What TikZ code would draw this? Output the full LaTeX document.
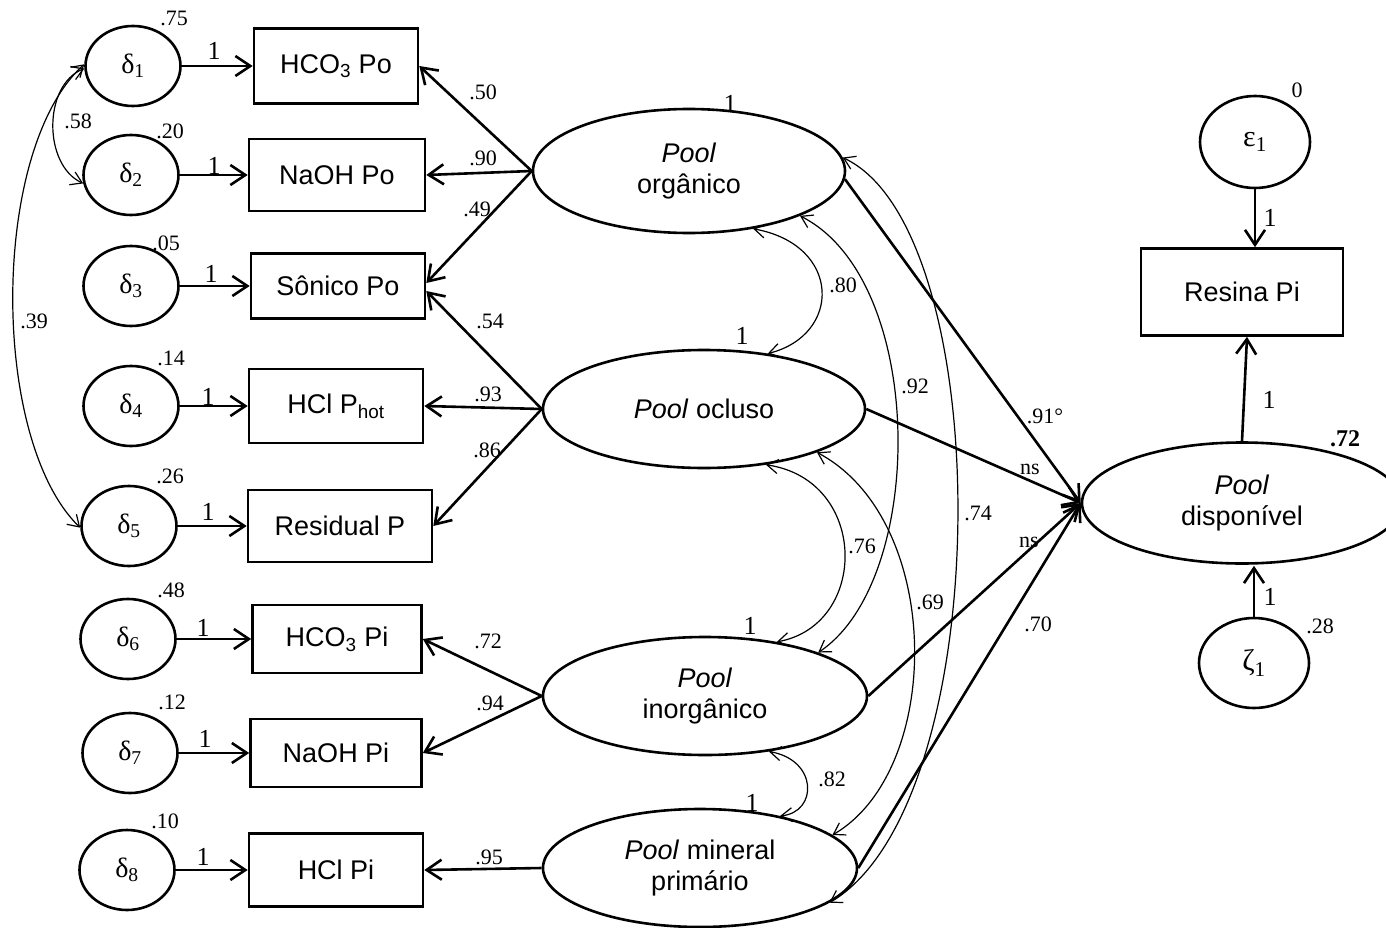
\documentclass[tikz,border=0pt]{standalone}
\usepackage{fontspec}
\setmainfont{Liberation Serif}
\setsansfont{Liberation Sans}
\usetikzlibrary{shapes.geometric,arrows.meta}

\begin{document}
\begin{tikzpicture}[x=1pt,y=-1pt,
  box/.style={draw,line width=2.6pt,rectangle,inner sep=0pt,font=\sffamily\fontsize{27}{32}\selectfont},
  err/.style={draw,line width=2.6pt,ellipse,inner sep=0pt,minimum width=95pt,minimum height=80pt,font=\fontsize{28}{32}\selectfont},
  latent/.style={draw,line width=2.6pt,ellipse,inner sep=0pt,align=center,font=\sffamily\fontsize{27}{31}\selectfont},
  reg/.style={line width=2.6pt,-{Straight Barb[length=15pt,width=20pt]}},
  cov/.style={line width=1.2pt,{Straight Barb[length=11pt,width=14pt]}-{Straight Barb[length=11pt,width=14pt]}},
  num/.style={font=\fontsize{22}{26}\selectfont,inner sep=0pt},
  one/.style={font=\fontsize{26}{30}\selectfont,inner sep=0pt},
]
\useasboundingbox (0,0) rectangle (1386,928);

% observed indicators
\node[box,minimum width=164pt,minimum height=75pt] (b1) at (336,66) {HCO\textsubscript{3} Po};
\node[box,minimum width=176pt,minimum height=72pt] (b2) at (337,175) {NaOH Po};
\node[box,minimum width=174pt,minimum height=65pt] (b3) at (338,286) {Sônico Po};
\node[box,minimum width=174pt,minimum height=74pt] (b4) at (336,406) {HCl P\textsubscript{hot}};
\node[box,minimum width=184pt,minimum height=72pt] (b5) at (340,526) {Residual P};
\node[box,minimum width=169pt,minimum height=68pt] (b6) at (337,639) {HCO\textsubscript{3} Pi};
\node[box,minimum width=171pt,minimum height=68pt] (b7) at (336,753) {NaOH Pi};
\node[box,minimum width=174pt,minimum height=73pt] (b8) at (336,870) {HCl Pi};
\node[box,minimum width=202pt,minimum height=87pt] (res) at (1242,292) {Resina Pi};

% measurement errors
\node[err] (d1) at (133,66) {δ\textsubscript{1}};
\node[err] (d2) at (131,175) {δ\textsubscript{2}};
\node[err] (d3) at (131,286) {δ\textsubscript{3}};
\node[err] (d4) at (131,406) {δ\textsubscript{4}};
\node[err] (d5) at (129,526) {δ\textsubscript{5}};
\node[err] (d6) at (128,639) {δ\textsubscript{6}};
\node[err] (d7) at (130,753) {δ\textsubscript{7}};
\node[err] (d8) at (127,870) {δ\textsubscript{8}};
\node[err,minimum width=110pt,minimum height=92pt,font=\fontsize{30}{34}\selectfont] (eps) at (1255,142) {ε\textsubscript{1}};
\node[err,minimum width=110pt,minimum height=90pt,font=\fontsize{30}{34}\selectfont] (zeta) at (1254,663) {ζ\textsubscript{1}};

% latent pools
\node[latent,minimum width=312pt,minimum height=124pt] (org) at (689,171) {\textit{Pool}\\orgânico};
\node[latent,minimum width=322pt,minimum height=118pt] (ocl) at (704,409) {\textit{Pool} ocluso};
\node[latent,minimum width=324pt,minimum height=118pt] (ino) at (705,696) {\textit{Pool}\\inorgânico};
\node[latent,minimum width=314pt,minimum height=118pt] (mine) at (700,868) {\textit{Pool} mineral\\primário};
\node[latent,minimum width=320pt,minimum height=121pt] (disp) at (1242,503) {\textit{Pool}\\disponível};

% error paths
\foreach \i in {1,...,8} \draw[reg] (d\i.east) -- (b\i.west);
\draw[reg] (eps.south) -- (eps.south |- res.north);
\draw[reg] (zeta.north) -- ([yshift=-1pt]zeta.north |- disp.south);
\draw[reg] (disp.north) -- ([xshift=5pt]res.south);

% loadings
\draw[reg] (org.west) -- (b1.east);
\draw[reg] (org.west) -- (b2.east);
\draw[reg] (org.west) -- ([yshift=3pt]b3.east);
\draw[reg] (ocl.west) -- ([yshift=-5pt]b3.east);
\draw[reg] (ocl.west) -- (b4.east);
\draw[reg] (ocl.west) -- (b5.east);
\draw[reg] (ino.west) -- (b6.east);
\draw[reg] (ino.west) -- (b7.east);
\draw[reg] (mine.west) -- (b8.east);

% structural paths
\draw[reg] (org.-3) -- (disp.west);
\draw[reg] (ocl.east) -- (disp.west);
\draw[reg] (ino.east) -- (disp.west);
\draw[reg] (mine.east) -- (disp.west);

% covariances
\draw[cov] (d1.183) .. controls (43,85) and (43,165) .. (d2.190);
\draw[cov] (d1.178) .. controls (-10,150) and (-10,440) .. (d5.182);
\draw[cov] (org.-42) .. controls (842,245) and (842,335) .. (ocl.41);
\draw[cov] (org.-22) .. controls (927,280) and (927,580) .. (ino.21);
\draw[cov] (org.5) .. controls (998,230) and (998,803) .. (mine.-15);
\draw[cov] (ocl.-42) .. controls (869,480) and (869,625) .. (ino.37);
\draw[cov] (ocl.-21) .. controls (944,520) and (944,770) .. (mine.14);
\draw[cov] (ino.-41) .. controls (818,760) and (818,812) .. (mine.33);

% variances
\node[num] (v1) at (174,18) {.75};
\node[num] (v2) at (170,131) {.20};
\node[num] (v3) at (166,243) {.05};
\node[num] (v4) at (171,358) {.14};
\node[num] (v5) at (170,476) {.26};
\node[num] (v6) at (171,590) {.48};
\node[num] (v7) at (172,702) {.12};
\node[num] (v8) at (165,821) {.10};
\node[num] (ve) at (1297,90) {0};
\node[num] (vz) at (1320,626) {.28};
\node[num,font=\fontsize{24}{28}\selectfont\bfseries] (vd) at (1345,439) {.72};

% fixed paths
\node[one] (o1) at (214,51) {1};
\node[one] (o2) at (214,166) {1};
\node[one] (o3) at (211,274) {1};
\node[one] (o4) at (208,397) {1};
\node[one] (o5) at (208,512) {1};
\node[one] (o6) at (203,628) {1};
\node[one] (o7) at (205,739) {1};
\node[one] (o8) at (203,857) {1};
\node[one] (oo) at (730,104) {1};
\node[one] (oc) at (742,336) {1};
\node[one] (oi) at (750,626) {1};
\node[one] (om) at (752,803) {1};
\node[one] (oe) at (1270,218) {1};
\node[one] (or) at (1269,400) {1};
\node[one] (oz) at (1270,597) {1};

% coefficients
\node[num] at (483,92) {.50};
\node[num] at (483,158) {.90};
\node[num] at (477,209) {.49};
\node[num] at (490,321) {.54};
\node[num] at (488,394) {.93};
\node[num] at (487,450) {.86};
\node[num] at (488,641) {.72};
\node[num] at (490,703) {.94};
\node[num] at (489,857) {.95};
\node[num] at (78,121) {.58};
\node[num] at (34,321) {.39};
\node[num] at (843,285) {.80};
\node[num] at (915,386) {.92};
\node[num] at (978,513) {.74};
\node[num] at (862,546) {.76};
\node[num] at (930,602) {.69};
\node[num] at (832,779) {.82};
\node[num] at (1045,416) {.91°};
\node[num] at (1030,469) {ns};
\node[num] at (1029,542) {ns};
\node[num] at (1038,624) {.70};
\end{tikzpicture}
\end{document}
